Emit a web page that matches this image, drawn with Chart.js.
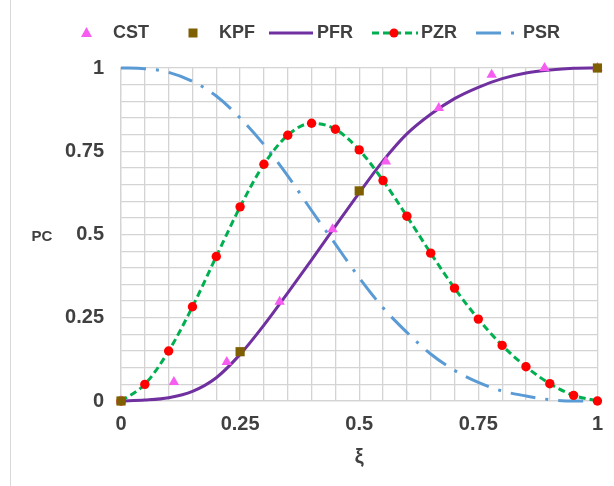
<!DOCTYPE html>
<html>
<head>
<meta charset="utf-8">
<script src="https://cdn.jsdelivr.net/npm/chart.js@4/dist/chart.umd.min.js"></script>
<style>
  html, body { margin: 0; padding: 0; background: #fff; }
  #wrap { position: relative; width: 614px; height: 486px; }
</style>
</head>
<body>
<div id="wrap"><canvas id="chart" width="614" height="486"></canvas></div>
<script>
// grid of xi values used by the smooth curves
const xiGrid = [0, 0.05, 0.1, 0.15, 0.2, 0.25, 0.3, 0.35, 0.4, 0.45, 0.5,
  0.55, 0.6, 0.65, 0.7, 0.75, 0.8, 0.85, 0.9, 0.95, 1]

const pfrValues = [0, 0.003, 0.01, 0.029, 0.07, 0.14, 0.228, 0.325, 0.424, 0.525, 0.625,
  0.721, 0.802, 0.861, 0.908, 0.942, 0.968, 0.985, 0.994, 0.999, 1]
const pzrValues = [0, 0.05, 0.15, 0.283, 0.434, 0.583, 0.711, 0.798, 0.834, 0.816, 0.754,
  0.662, 0.555, 0.444, 0.339, 0.246, 0.167, 0.103, 0.052, 0.017, 0]
const psrValues = [1, 0.998, 0.987, 0.96, 0.916, 0.85, 0.77, 0.676, 0.572, 0.471, 0.37,
  0.28, 0.206, 0.141, 0.092, 0.056, 0.03, 0.015, 0.004, 0, 0]

const cstXi = [0, 0.111, 0.222, 0.333, 0.444, 0.556, 0.667, 0.778, 0.889, 1]
const cstValues = [0, 0.057, 0.117, 0.298, 0.516, 0.719, 0.88, 0.98, 1, 1]

const kpfXi = [0, 0.25, 0.5, 1]
const kpfValues = [0, 0.148, 0.631, 1]

const tickLabels = [0, 0.25, 0.5, 0.75, 1]

const pts = (xs, ys) => xs.map((x, i) => ({ x, y: ys[i] }))
const textColor = '#404040'
const gridColor = '#d4d4d4'

function tickText(v) {
  const hit = tickLabels.find(t => Math.abs(t - v) < 1e-6)
  return hit === undefined ? '' : String(hit)
}

const extras = {
  id: 'extras',
  afterDraw(chart) {
    const c = chart.ctx
    c.save()
    // outer frame line on the left
    c.strokeStyle = '#d9d9d9'
    c.lineWidth = 1
    c.beginPath()
    c.moveTo(10.5, 0)
    c.lineTo(10.5, 486)
    c.stroke()

    // y title, written flat like the original
    c.fillStyle = textColor
    c.font = 'bold 15px "Liberation Sans", Arial, sans-serif'
    c.textAlign = 'center'
    c.textBaseline = 'middle'
    c.fillText('PC', 42, 237)

    // legend
    const ly = 33
    c.font = 'bold 18px "Liberation Sans", Arial, sans-serif'
    c.textAlign = 'left'

    // CST
    c.fillStyle = '#f75cf0'
    c.beginPath()
    c.moveTo(86.5, ly - 6); c.lineTo(92, ly + 4); c.lineTo(81, ly + 4); c.closePath()
    c.fill()
    c.fillStyle = textColor
    c.fillText('CST', 113, ly)

    // KPF
    c.fillStyle = '#7f6000'
    c.fillRect(188.5, ly - 4.5, 9, 9)
    c.fillStyle = textColor
    c.fillText('KPF', 219, ly)

    // PFR
    c.strokeStyle = '#7030a0'
    c.lineWidth = 3
    c.beginPath(); c.moveTo(269, ly); c.lineTo(313, ly); c.stroke()
    c.fillText('PFR', 317, ly)

    // PZR
    c.strokeStyle = '#00b050'
    c.setLineDash([7, 4])
    c.beginPath(); c.moveTo(372, ly); c.lineTo(418, ly); c.stroke()
    c.setLineDash([])
    c.fillStyle = '#ff0000'
    c.beginPath(); c.arc(394, ly, 4.5, 0, Math.PI * 2); c.fill()
    c.fillStyle = textColor
    c.fillText('PZR', 421, ly)

    // PSR
    c.strokeStyle = '#5b9bd5'
    c.setLineDash([25, 10, 3, 10])
    c.beginPath(); c.moveTo(476, ly); c.lineTo(516, ly); c.stroke()
    c.setLineDash([])
    c.fillText('PSR', 523, ly)
    c.restore()
  }
}

new Chart(document.getElementById('chart'), {
  type: 'scatter',
  data: {
    datasets: [
      {
        label: 'KPF',
        data: pts(kpfXi, kpfValues),
        pointStyle: 'rect',
        pointRadius: 6.5,
        pointBackgroundColor: '#7f6000',
        pointBorderWidth: 0,
        showLine: false,
        order: 0,
        clip: false,
      },
      {
        label: 'CST',
        data: pts(cstXi, cstValues),
        pointStyle: 'triangle',
        pointRadius: 6,
        pointBackgroundColor: '#f75cf0',
        pointBorderWidth: 0,
        showLine: false,
        order: 1,
        clip: false,
      },
      {
        label: 'PZR',
        data: pts(xiGrid, pzrValues),
        showLine: true,
        borderColor: '#00b050',
        borderWidth: 3,
        borderDash: [7, 4],
        cubicInterpolationMode: 'monotone',
        pointRadius: 4.7,
        pointBackgroundColor: '#ff0000',
        pointBorderWidth: 0,
        order: 2,
        clip: false,
      },
      {
        label: 'PFR',
        data: pts(xiGrid, pfrValues),
        showLine: true,
        borderColor: '#7030a0',
        borderWidth: 3,
        cubicInterpolationMode: 'monotone',
        pointRadius: 0,
        order: 3,
        clip: false,
      },
      {
        label: 'PSR',
        data: pts(xiGrid, psrValues),
        showLine: true,
        borderColor: '#5b9bd5',
        borderWidth: 3,
        borderDash: [25, 10, 3, 10],
        cubicInterpolationMode: 'monotone',
        pointRadius: 0,
        order: 4,
        clip: false,
      },
    ],
  },
  options: {
    responsive: false,
    animation: false,
    events: [],
    layout: { padding: { left: 0, right: 15, top: 68, bottom: 0 } },
    plugins: {
      legend: { display: false },
      tooltip: { enabled: false },
    },
    scales: {
      x: {
        type: 'linear',
        min: 0,
        max: 1,
        afterFit: s => { s.height = 85 },
        grid: { color: gridColor, lineWidth: 1.3, drawTicks: false },
        border: { color: gridColor, width: 1.3 },
        ticks: {
          stepSize: 0.05,
          autoSkip: false,
          maxRotation: 0,
          padding: 11,
          color: textColor,
          font: { family: '"Liberation Sans", Arial, sans-serif', size: 20, weight: 'bold' },
          callback: v => tickText(v),
        },
        title: {
          display: true,
          text: 'ξ',
          color: textColor,
          padding: { top: 0, bottom: 17 },
          font: { family: '"Liberation Sans", Arial, sans-serif', size: 20, weight: 'bold' },
        },
      },
      y: {
        type: 'linear',
        min: 0,
        max: 1,
        afterFit: s => { s.width = 121 },
        grid: { color: gridColor, lineWidth: 1.3, drawTicks: false },
        border: { color: gridColor, width: 1.3 },
        ticks: {
          stepSize: 0.05,
          autoSkip: false,
          padding: 17,
          color: textColor,
          font: { family: '"Liberation Sans", Arial, sans-serif', size: 20, weight: 'bold' },
          callback: v => tickText(v),
        },
      },
    },
  },
  plugins: [extras],
})
</script>
</body>
</html>
